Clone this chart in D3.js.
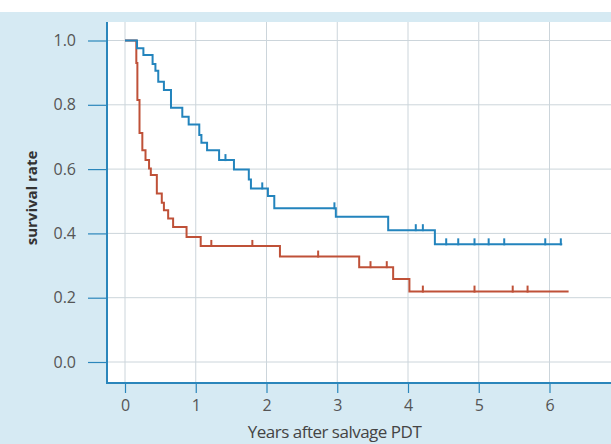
<!DOCTYPE html>
<html>
<head>
<meta charset="utf-8">
<script src="https://cdn.jsdelivr.net/npm/d3@7"></script>
<style>
html,body{margin:0;padding:0;background:#fff;}
svg{display:block;}
</style>
</head>
<body>
<svg id="chart" width="611" height="444"></svg>
<script>
// ---- data ----
const xTicks = [0, 1, 2, 3, 4, 5, 6];
const yTicks = [0.0, 0.2, 0.4, 0.6, 0.8, 1.0];
const xLabel = "Years after salvage PDT";
const yLabel = "survival rate";

const blueTimes = [0.17,0.26,0.39,0.43,0.47,0.55,0.65,0.81,0.90,1.05,1.08,1.16,1.33,1.54,1.75,1.78,2.02,2.11,2.98,3.72,4.38];
const blueSurv  = [0.976,0.955,0.927,0.906,0.872,0.846,0.791,0.763,0.739,0.706,0.682,0.659,0.628,0.599,0.568,0.540,0.516,0.478,0.452,0.410,0.366];
const blueCensor = [1.42,1.94,2.96,4.11,4.21,4.54,4.71,4.94,5.14,5.36,5.94,6.16];
const blueEnd = 6.18;

const redTimes = [0.16,0.175,0.205,0.245,0.29,0.34,0.365,0.45,0.52,0.55,0.61,0.68,0.87,1.07,2.19,3.31,3.79,4.02];
const redSurv  = [0.93,0.815,0.712,0.659,0.628,0.602,0.582,0.524,0.495,0.472,0.446,0.420,0.389,0.361,0.328,0.295,0.258,0.219];
const redCensor = [1.22,1.80,2.73,3.47,3.70,4.21,4.94,5.48,5.69];
const redEnd = 6.27;

// ---- layout ----
const W = 611, H = 444;
const svg = d3.select("#chart");
const x = d3.scaleLinear().domain([0, 6]).range([125, 549.5]);
const y = d3.scaleLinear().domain([0, 1]).range([362, 40.5]);
const plotL = 107, plotT = 22, plotR = W, plotB = 383;

const blueCol = "#2384bd";
const redCol = "#bf5138";
const axisCol = "#2b86bb";
const font = "'Open Sans', sans-serif";

// backgrounds
svg.append("rect").attr("x",0).attr("y",12).attr("width",W).attr("height",H-12).attr("fill","#d6eaf3");
svg.append("rect").attr("x",plotL).attr("y",plotT).attr("width",plotR-plotL).attr("height",plotB-plotT).attr("fill","#ffffff");

// grid
const xGridVals = d3.range(0, 8);
svg.append("g").selectAll("line").data(xGridVals).join("line")
  .attr("x1", d=>x(d)).attr("x2", d=>x(d))
  .attr("y1", plotT).attr("y2", plotB)
  .attr("stroke", "#ccd5db").attr("stroke-width", 1);
svg.append("g").selectAll("line").data(yTicks).join("line")
  .attr("x1", plotL).attr("x2", plotR)
  .attr("y1", d=>y(d)).attr("y2", d=>y(d))
  .attr("stroke", "#ccd5db").attr("stroke-width", 1);

// axes
const yAxis = d3.axisLeft(y).tickValues(yTicks).tickFormat(d3.format(".1f")).tickSize(19).tickPadding(12);
const gy = svg.append("g").attr("transform", `translate(${plotL},0)`).call(yAxis);
const xAxis = d3.axisBottom(x).tickValues(xTicks).tickFormat(d3.format("d")).tickSize(10).tickPadding(7);
const gx = svg.append("g").attr("transform", `translate(0,${plotB})`).call(xAxis);
[gx, gy].forEach(g => {
  g.select(".domain").remove();
  g.selectAll(".tick line").attr("stroke", axisCol).attr("stroke-width", 1.2);
  g.selectAll(".tick text").attr("fill", "#555").style("font-family", font).style("font-size", "16px");
});
svg.append("line").attr("x1", plotL).attr("x2", plotL).attr("y1", plotT).attr("y2", plotB+1)
  .attr("stroke", axisCol).attr("stroke-width", 2);
svg.append("line").attr("x1", plotL-1).attr("x2", plotR).attr("y1", plotB).attr("y2", plotB)
  .attr("stroke", axisCol).attr("stroke-width", 2);

// labels
svg.append("text").attr("x", 334.5).attr("y", 437.5).attr("text-anchor", "middle")
  .attr("fill", "#444").style("font-family", font).style("font-size", "17px")
  .style("letter-spacing", "-0.5px").text(xLabel);
svg.append("text").attr("transform", "translate(37,198) rotate(-90)").attr("text-anchor", "middle")
  .attr("fill", "#333").style("font-family", font).style("font-size", "15px")
  .style("font-weight", "bold").text(yLabel);

// KM curves
function stepPoints(times, surv, end) {
  const pts = [[0, 1]];
  let s = 1;
  times.forEach((t, i) => { pts.push([t, s]); s = surv[i]; pts.push([t, s]); });
  pts.push([end, s]);
  return pts;
}
function survAt(times, surv, t) {
  let s = 1;
  times.forEach((tt, i) => { if (tt <= t) s = surv[i]; });
  return s;
}
const line = d3.line().x(d => x(d[0])).y(d => y(d[1]));

function drawCurve(times, surv, censor, end, col) {
  svg.append("path").datum(stepPoints(times, surv, end)).attr("d", line)
    .attr("fill", "none").attr("stroke", col).attr("stroke-width", 2).attr("stroke-linejoin", "miter");
  svg.append("g").selectAll("line").data(censor).join("line")
    .attr("x1", d => x(d)).attr("x2", d => x(d))
    .attr("y1", d => y(survAt(times, surv, d)) - 6)
    .attr("y2", d => y(survAt(times, surv, d)) + 1)
    .attr("stroke", col).attr("stroke-width", 2);
}
drawCurve(redTimes, redSurv, redCensor, redEnd, redCol);
drawCurve(blueTimes, blueSurv, blueCensor, blueEnd, blueCol);
</script>
</body>
</html>
